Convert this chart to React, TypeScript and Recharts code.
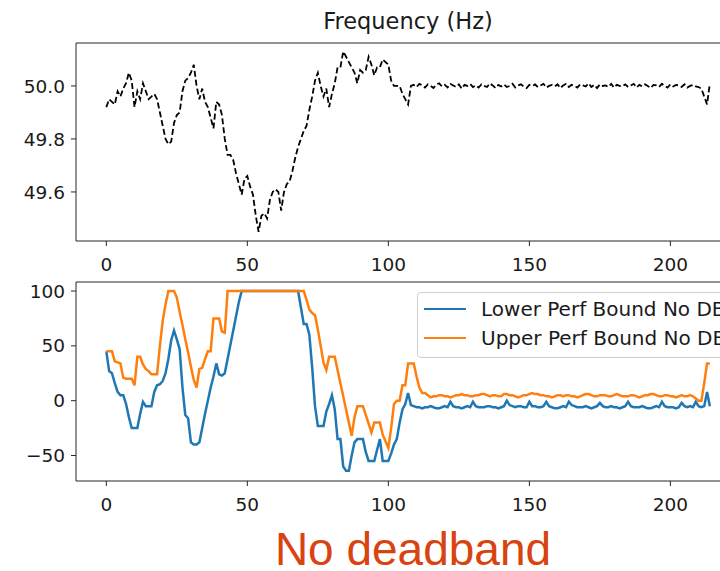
import { Line, LineChart, ReferenceLine, XAxis, YAxis } from 'recharts';

// frequency (Hz), one sample per step, steps 0..214
const freqHead = [
  49.92, 49.95, 49.94, 49.93, 49.98, 49.96, 49.99, 50.01, 50.05, 50.02,
  49.92, 49.98, 49.95, 50.01, 49.98, 49.95, 49.96, 49.97, 49.95, 49.90,
  49.85, 49.80, 49.78, 49.79, 49.86, 49.89, 49.90, 49.98, 50.02, 50.03,
  50.05, 50.08, 50.00, 49.95, 49.99, 49.94, 49.92, 49.88, 49.84, 49.94,
  49.93, 49.89, 49.80, 49.74, 49.74, 49.72, 49.67, 49.63, 49.59, 49.65,
  49.66, 49.62, 49.59, 49.51, 49.45, 49.51, 49.52, 49.50, 49.57, 49.60,
  49.61, 49.60, 49.53, 49.60, 49.63, 49.64, 49.68, 49.73, 49.77, 49.80,
  49.83, 49.85, 49.91, 49.96, 50.02, 50.05, 50.00, 49.96, 49.99, 49.92,
  49.97, 50.01, 50.07, 50.07, 50.13, 50.11, 50.09, 50.07, 50.05, 50.01,
  50.06, 50.05, 50.06, 50.11, 50.08, 50.04, 50.07, 50.07, 50.10, 50.09,
  50.08, 50.02, 50.00, 50.00, 50.00, 49.97, 49.95, 49.93, 50.00,
];
const freqTail = [
  50.004, 49.996, 50.008, 50.002, 49.994, 50.006, 50.000, 49.992, 50.006, 50.010,
  49.998, 50.004, 49.994, 50.008, 50.002, 49.996, 50.006, 49.990, 50.004, 50.000,
  50.008, 49.996, 50.002, 49.994, 50.006, 50.000, 49.996, 50.010, 50.002, 49.992,
  50.004, 49.998, 50.006, 49.996, 50.000, 50.008, 49.994, 50.002, 50.006, 49.998,
  49.992, 50.004, 50.000, 50.006, 49.996, 50.002, 50.008, 49.994, 50.000, 50.004,
  49.998, 50.006, 49.992, 50.002, 50.008, 49.996, 50.004, 50.000, 49.994, 50.006,
  50.002, 49.998, 50.010, 49.996, 50.004, 49.992, 50.006, 50.000, 50.002, 49.996,
  50.008, 49.994, 50.004, 50.000, 49.998, 50.006, 49.996, 50.002, 50.008, 49.994,
  50.004, 49.998, 50.006, 50.000, 49.992, 50.004, 50.002, 49.996, 50.008, 50.000,
  49.994, 50.006, 49.998, 50.004, 50.002, 49.996, 50.006, 49.994, 50.000, 50.004,
  49.998, 49.996, 49.99, 49.96, 49.93, 50.01,
];
const frequency = [...freqHead, ...freqTail];

const lowerHead = [
  45, 27, 25, 16, 8, 5, 5, -3, -15, -25,
  -25, -25, -12, -1, -5, -5, -5, 8, 14, 15,
  18, 25, 38, 55, 64, 56, 47, 12, -13, -16,
  -38, -40, -40, -38, -25, -12, 0, 12, 22, 34,
  24, 23, 25, 38, 51, 64, 77, 90, 100, 100,
  100, 100, 100, 100, 100, 100, 100, 100, 100, 100,
  100, 100, 100, 100, 100, 100, 100, 100, 100, 85,
  70, 70, 60, 30, -5, -23, -23, -23, -10, -3,
  5, -8, -35, -35, -60, -64, -64, -50, -38, -35,
  -35, -35, -47, -55, -55, -55, -45, -35, -55, -55,
  -55, -48, -40, -35, -20, -8, -3, 7, -4,
];
const lowerTail = [
  -5, -6, -6, -7, -6, -6, -5, -6, -7, -7,
  -6, -5, -6, -1, -5, -6, -6, -7, -6, -5,
  -6, -1, -5, -6, -6, -6, -5, -5, -6, -6,
  -7, -6, -5, 0, -4, -5, -6, -5, -5, -6,
  -6, -1, -5, -5, -6, -6, -5, -1, -5, -6,
  -7, -7, -6, -5, -6, -1, -4, -5, -6, -6,
  -6, -5, -6, -7, -6, -5, -2, -5, -6, -6,
  -5, -6, -6, -7, -6, -5, -1, -5, -6, -6,
  -6, -5, -6, -7, -7, -6, -5, -6, -1, -5,
  -6, -6, -6, -7, -6, -2, -5, -6, -5, -6,
  -1, -5, -6, -5, 8, -5,
];
const lowerBound = [...lowerHead, ...lowerTail];

const upperHead = [
  45, 45, 45, 36, 35, 34, 21, 20, 20, 20,
  14, 40, 40, 33, 29, 27, 24, 24, 24, 50,
  73, 88, 100, 100, 100, 94, 81, 69, 56, 44,
  31, 19, 12, 29, 30, 38, 45, 45, 75, 75,
  75, 63, 62, 100, 100, 100, 100, 100, 100, 100,
  100, 100, 100, 100, 100, 100, 100, 100, 100, 100,
  100, 100, 100, 100, 100, 100, 100, 100, 100, 100,
  100, 92, 83, 80, 78, 65, 50, 35, 28, 40,
  40, 40, 28, 16, 4, -8, -20, -32, -15, -5,
  -5, -5, -13, -21, -29, -20, -20, -20, -31, -37,
  -43, -25, -3, 0, 0, 14, 14, 34, 34, 34,
  22, 12, 7, 7, 5, 3,
];
const upperTail = [
  4, 4, 5, 5, 4, 4, 3, 4, 5, 5,
  6, 5, 5, 4, 4, 5, 5, 6, 6, 5,
  4, 5, 5, 4, 4, 6, 6, 5, 5, 4,
  3, 4, 5, 5, 6, 7, 6, 6, 5, 5,
  4, 4, 3, 4, 5, 5, 4, 5, 5, 4,
  4, 3, 4, 5, 6, 6, 5, 4, 4, 5,
  5, 5, 4, 4, 5, 6, 5, 4, 4, 4,
  5, 5, 4, 3, 4, 5, 5, 6, 6, 5,
  4, 4, 5, 5, 4, 4, 3, 4, 5, 4,
  4, 5, 4, 2, 0, 0, 16, 34, 34,
];
const upperBound = [...upperHead, ...upperTail];

const xTicks = [0, 50, 100, 150, 200];
const freqTicks = [49.6, 49.8, 50.0];
const boundTicks = [-50, 0, 50, 100];
const freqDomain = [49.415, 50.162];
const boundDomain = [-73.25, 108.25];
const xDomain = [-10.75, 225.75];

const rows = frequency.map((f, i) => ({
  t: i,
  freq: f,
  lower: lowerBound[i],
  upper: upperBound[i],
}));

const BLUE = '#1f77b4';
const ORANGE = '#ff7f0e';
const AXIS = '#262626';
const FONT = 'DejaVu Sans, sans-serif';
const tickStyle = { fill: '#1a1a1a', fontSize: 18.5, fontFamily: FONT };
const minus = (v: number) => String(v).replace('-', '\u2212');

export default function App() {
  return (
    <div style={{ position: 'absolute', left: 0, top: 0, width: 720, height: 571, overflow: 'hidden', background: '#fff', fontFamily: FONT }}>
      <div style={{ position: 'absolute', left: 0, top: 8, width: 720, boxSizing: 'border-box', paddingLeft: 96,
        textAlign: 'center', fontSize: 22.5, color: '#1a1a1a' }}>
        Frequency (Hz)
      </div>

      <div style={{ position: 'absolute', left: 0, top: 0 }}>
        <LineChart width={760} height={282} data={rows} margin={{ top: 43, right: 17, left: 0, bottom: 12 }}>
          <XAxis dataKey="t" type="number" domain={xDomain} ticks={xTicks} allowDataOverflow
            height={29} tickSize={5} tickMargin={12} stroke={AXIS} tick={tickStyle} />
          <YAxis type="number" domain={freqDomain} ticks={freqTicks} allowDataOverflow
            width={76} tickSize={5} tickMargin={6} stroke={AXIS} tick={tickStyle}
            tickFormatter={(v: number) => v.toFixed(1)} />
          <ReferenceLine y={freqDomain[1]} stroke={AXIS} strokeWidth={1} ifOverflow="visible" />
          <Line dataKey="freq" type="linear" stroke="#000" strokeWidth={1.8} strokeDasharray="6 3"
            dot={false} isAnimationActive={false} />
        </LineChart>
      </div>

      <div style={{ position: 'absolute', left: 0, top: 270 }}>
        <LineChart width={760} height={252} data={rows} margin={{ top: 12, right: 17, left: 0, bottom: 12 }}>
          <XAxis dataKey="t" type="number" domain={xDomain} ticks={xTicks} allowDataOverflow
            height={29} tickSize={5} tickMargin={12} stroke={AXIS} tick={tickStyle} />
          <YAxis type="number" domain={boundDomain} ticks={boundTicks} allowDataOverflow
            width={76} tickSize={5} tickMargin={6} stroke={AXIS} tick={tickStyle} tickFormatter={minus} />
          <ReferenceLine y={boundDomain[1]} stroke={AXIS} strokeWidth={1} ifOverflow="visible" />
          <Line dataKey="lower" name="Lower Perf Bound No DB" type="linear" stroke={BLUE} strokeWidth={2.5}
            dot={false} isAnimationActive={false} />
          <Line dataKey="upper" name="Upper Perf Bound No DB" type="linear" stroke={ORANGE} strokeWidth={2.5}
            dot={false} isAnimationActive={false} />
        </LineChart>
      </div>

      <div style={{ position: 'absolute', left: 417, top: 292, width: 340, height: 64, border: '1px solid #d0d0d0',
        borderRadius: 4, background: 'rgba(255,255,255,0.85)', fontSize: 20, color: '#1a1a1a' }}>
        {[['Lower Perf Bound No DB', BLUE], ['Upper Perf Bound No DB', ORANGE]].map(([label, color], i) => (
          <div key={label} style={{ position: 'absolute', left: 0, top: 3 + i * 29, height: 26, display: 'flex', alignItems: 'center', whiteSpace: 'nowrap' }}>
            <span style={{ display: 'inline-block', width: 42, height: 2.5, background: color, marginLeft: 6, marginRight: 15 }} />
            <span>{label}</span>
          </div>
        ))}
      </div>

      <div style={{ position: 'absolute', left: 0, top: 527, width: 720, boxSizing: 'border-box', paddingLeft: 106,
        textAlign: 'center', fontSize: 46, lineHeight: '44px', fontFamily: 'Liberation Sans, Arial, sans-serif', color: '#d9430f' }}>
        No deadband
      </div>
    </div>
  );
}
